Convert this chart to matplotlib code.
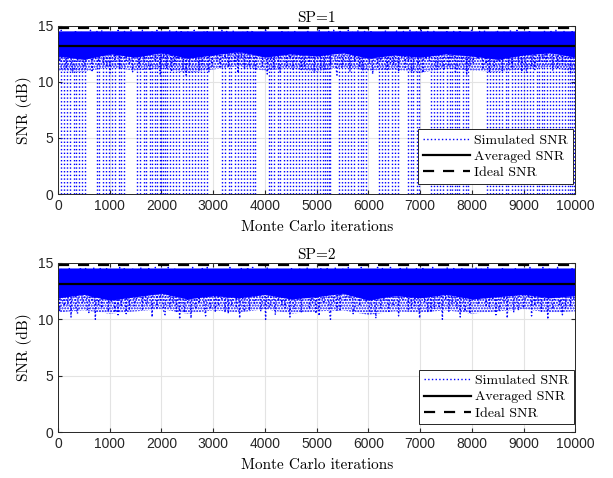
import numpy as np
import matplotlib
matplotlib.use("Agg")
import matplotlib.pyplot as plt

# Simulated SNR samples (dB x 10), read off the band of each panel
snr_sp1 = [
    143, 118, 146, 131, 144, 112, 140, 145, 123, 108, 142, 146, 119, 128, 145, 139, 114, 118, 144, 121,
    146, 110, 143, 121, 145, 116, 135, 146, 117, 142, 113, 144, 108, 141, 145, 120, 139, 146, 111, 143,
    140, 145, 119, 144, 115, 146, 109, 142, 122, 145, 112, 143, 146, 117, 140, 144, 113, 110, 145, 142,
    118, 146, 141, 107, 144, 121, 145, 112, 142, 146, 109, 143, 116, 145, 120, 141, 146, 111, 144, 106,
    145, 114, 143, 140, 146, 119, 144, 110, 142, 116, 145, 123, 146, 109, 143, 114, 140, 145, 118, 144,
    112, 146, 141, 121, 145, 113, 143, 140, 146, 117, 142, 108, 144, 122, 145, 111, 141, 146, 115, 143,
    146, 119, 110, 144, 140, 145, 114, 142, 146, 107, 143, 120, 145, 112, 141, 144, 116, 109, 146, 139,
    142, 113, 145, 121, 143, 110, 146, 118, 140, 144, 111, 145, 114, 142, 146, 117, 139, 143, 108, 145,
    122, 146, 112, 141, 111, 144, 140, 145, 115, 143, 146, 119, 106, 142, 145, 113, 120, 144, 141, 146,
    109, 143, 145, 118, 140, 146, 114, 142, 110, 145, 121, 143, 116, 146, 107, 141, 144, 112, 145, 119,
    144, 140, 146, 111, 142, 117, 145, 115, 143, 146, 109, 141, 122, 145, 113, 144, 118, 146, 110, 112,
    143, 145, 116, 140, 146, 108, 142, 120, 145, 119, 144, 141, 146, 113, 111, 143, 145, 117, 110, 142,
    146, 115, 144, 121, 145, 109, 112, 143, 146, 118, 140, 145, 107, 142, 114, 146, 117, 144, 140, 120,
    145, 142, 111, 146, 116, 143, 108, 145, 140, 113, 144, 146, 119, 141, 110, 145, 122, 143, 115, 146,
    112, 144, 141, 146, 117, 142, 109, 145, 120, 108, 143, 146, 114, 140, 111, 145, 142, 118, 144, 121,
    146, 118, 143, 140, 145, 110, 142, 146, 113, 139, 144, 116, 145, 115, 141, 143, 107, 146, 119, 112,
]

snr_sp2 = [
    141, 108, 145, 116, 112, 143, 113, 146, 102, 140, 144, 111, 105, 142, 146, 114, 118, 145, 109, 106,
    144, 117, 146, 100, 141, 113, 145, 110, 143, 119, 146, 107, 142, 115, 145, 106, 140, 104, 146, 111,
    139, 146, 105, 143, 108, 141, 145, 112, 118, 119, 144, 146, 109, 142, 115, 113, 145, 140, 102, 143,
    146, 110, 141, 117, 145, 108, 104, 143, 146, 111, 140, 114, 145, 107, 142, 100, 144, 119, 106, 145,
    115, 143, 101, 146, 118, 109, 144, 114, 141, 145, 113, 103, 146, 117, 109, 143, 140, 106, 145, 112,
    142, 118, 145, 106, 143, 105, 146, 112, 119, 144, 110, 141, 101, 145, 115, 107, 143, 146, 108, 140,
    146, 114, 116, 142, 145, 107, 118, 144, 100, 146, 111, 111, 143, 119, 104, 145, 116, 141, 113, 144,
    110, 145, 140, 102, 146, 113, 109, 143, 117, 145, 106, 141, 118, 144, 146, 109, 119, 115, 145, 105,
    143, 103, 146, 118, 114, 142, 145, 111, 100, 144, 116, 146, 108, 141, 107, 143, 145, 117, 119, 146,
    117, 144, 105, 110, 145, 140, 112, 146, 119, 142, 115, 143, 108, 106, 145, 118, 101, 146, 141, 110,
    145, 116, 143, 119, 107, 146, 114, 112, 144, 141, 103, 145, 117, 118, 142, 146, 109, 140, 110, 144,
    112, 146, 118, 101, 143, 145, 115, 140, 106, 144, 106, 146, 109, 142, 119, 111, 145, 100, 143, 117,
    146, 107, 141, 113, 145, 118, 110, 144, 102, 146, 115, 107, 143, 140, 105, 145, 117, 142, 146, 113,
    119, 145, 119, 143, 111, 146, 111, 141, 117, 144, 104, 145, 108, 114, 146, 116, 142, 101, 144, 140,
    143, 106, 146, 115, 108, 142, 145, 110, 118, 144, 119, 146, 103, 141, 112, 145, 114, 143, 107, 146,
    116, 144, 100, 145, 141, 109, 115, 143, 146, 113, 118, 104, 145, 110, 142, 140, 111, 146, 117, 144,
]

# edges of the band, every 500 iterations (dB): solid part and speckled part
env_iter = list(range(0, 10001, 500))
dense_low_sp1 = [12.3, 12.0, 12.5, 12.2, 12.6, 12.1, 12.4, 12.7, 12.2, 12.5, 12.3,
                 12.6, 12.1, 12.4, 12.2, 12.5, 12.3, 12.0, 12.4, 12.6, 12.2]
dense_low_sp2 = [11.9, 12.2, 11.7, 12.0, 12.3, 11.8, 12.1, 11.9, 12.2, 11.8, 12.0,
                 12.3, 11.7, 12.1, 11.9, 12.2, 11.8, 12.0, 12.2, 11.9, 12.1]
speckle_low_sp1 = [11.0, 10.9, 11.3, 11.0, 11.2, 10.8, 11.1, 11.4, 11.0, 11.2, 10.9,
                   11.3, 11.0, 11.1, 10.8, 11.2, 11.0, 10.9, 11.1, 11.3, 10.9]
speckle_low_sp2 = [10.6, 10.8, 10.5, 10.7, 10.9, 10.5, 10.8, 10.6, 10.9, 10.5, 10.7,
                   10.8, 10.4, 10.7, 10.6, 10.8, 10.5, 10.7, 10.9, 10.6, 10.7]
band_top = 14.55

# iterations where the SP=1 link drops to 0 dB
drops_sp1 = [
    55, 120, 175, 240, 300, 345, 410, 470, 530, 760, 800, 870, 925, 990, 1040, 1110, 1170, 1225, 1280,
    1530, 1590, 1660, 1710, 1770, 1815, 1870, 1920, 1965, 2000, 2035, 2065, 2100, 2160, 2225, 2290,
    2340, 2410, 2475, 2530, 2595, 2650, 2715, 2770, 2830, 2880, 3170, 3230, 3300, 3345, 3420, 3475,
    3530, 3590, 3650, 3710, 3770, 3810, 4070, 4120, 4180, 4245, 4300, 4360, 4430, 4490, 4540, 4600,
    4660, 4720, 4780, 4840, 4890, 4950, 5010, 5070, 5130, 5165, 5200, 5230, 5265, 5430, 5490, 5545,
    5610, 5670, 5730, 5790, 5850, 5905, 5950, 6200, 6265, 6330, 6385, 6450, 6505, 6570, 6760, 6815,
    6870, 6930, 6975, 7210, 7270, 7330, 7390, 7445, 7510, 7570, 7625, 7665, 7705, 7760, 7820, 7880,
    7925, 8285, 8345, 8410, 8470, 8530, 8590, 8650, 8705, 8770, 8830, 8890, 8950, 9010, 9070, 9130,
    9190, 9250, 9305, 9350, 9395, 9445, 9505, 9565, 9625, 9690, 9745, 9800, 9850, 9890, 9935, 9975,
]

avg_snr = [13.2, 13.1]
ideal_snr = 14.8
n_iter = 10000

plt.rcParams['axes.unicode_minus'] = False
plt.rcParams['hatch.linewidth'] = 1.0
serif = 'cmr10'
tick_font = 'Liberation Sans'
blue = '#0000ff'

fig = plt.figure(figsize=(6.13, 4.78), dpi=100)
ax1 = fig.add_axes([0.0946, 0.594, 0.844, 0.352])
ax2 = fig.add_axes([0.0946, 0.096, 0.844, 0.354])

panels = [(ax1, snr_sp1, dense_low_sp1, speckle_low_sp1, drops_sp1, 'SP=1', (0.995, 0.06)),
          (ax2, snr_sp2, dense_low_sp2, speckle_low_sp2, [], 'SP=2', (0.997, 0.045))]
for i, (ax, band, low, speck, drops, title, leg_pos) in enumerate(panels):
    x = np.linspace(1, n_iter, len(band))
    y = np.array(band) / 10.0
    ax.fill_between(env_iter, speck, low, facecolor='none', edgecolor=blue,
                    hatch='......', lw=0, zorder=1.4)
    ax.fill_between(env_iter, low, band_top, color=blue, lw=0, zorder=1.5)
    ax.plot(x, y, ':', color=blue, lw=1.0, label='Simulated SNR', zorder=2)
    if drops:
        ax.vlines(drops, 0, np.interp(drops, env_iter, low), colors=blue,
                  linestyles=':', lw=1.0, zorder=2)
    ax.axhline(avg_snr[i], color='k', lw=1.6, label='Averaged SNR', zorder=3)
    ax.axhline(ideal_snr, color='k', lw=1.6, ls=(0, (5, 4)), label='Ideal SNR', zorder=3)
    ax.set_xlim(0, n_iter)
    ax.set_ylim(0, 15)
    ax.set_xticks(np.arange(0, 10001, 1000))
    ax.set_yticks([0, 5, 10, 15])
    ax.grid(True, color='#e3e3e3', lw=0.8)
    ax.set_axisbelow(True)
    ax.tick_params(direction='in', top=True, right=True, length=3, colors='#262626',
                   labelsize=10)
    for lab in ax.get_xticklabels() + ax.get_yticklabels():
        lab.set_family(tick_font)
    for s in ax.spines.values():
        s.set_color('#262626')
        s.set_linewidth(0.7)
        s.set_zorder(4)
    ax.set_title(title, family=serif, fontsize=11, pad=3)
    ax.set_xlabel('Monte Carlo iterations', family=serif, fontsize=11, labelpad=5)
    ax.set_ylabel('SNR (dB)', family=serif, fontsize=11, labelpad=4)
    leg = ax.legend(loc='lower right', bbox_to_anchor=leg_pos, borderaxespad=0,
                    prop={'family': serif, 'size': 10}, fancybox=False,
                    framealpha=1, edgecolor='#262626', handlelength=3.4,
                    labelspacing=0.25, borderpad=0.35, handletextpad=0.3)
    leg.get_frame().set_linewidth(0.7)
    leg.set_zorder(5)

fig.savefig('out.png', dpi=100)
